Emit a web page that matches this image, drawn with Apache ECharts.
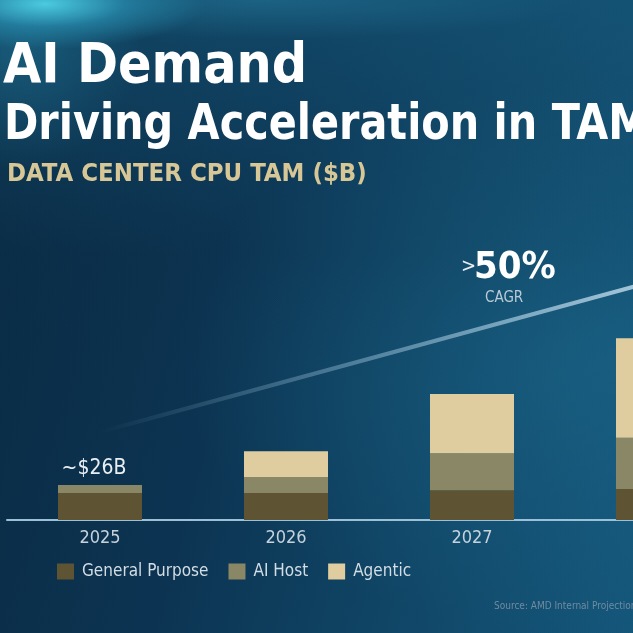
<!DOCTYPE html>
<html>
<head>
<meta charset="utf-8">
<script src="https://cdn.jsdelivr.net/npm/echarts@6/dist/echarts.min.js"></script>
<style>
html,body{margin:0;padding:0;width:633px;height:633px;overflow:hidden;}
#wrap{position:relative;width:633px;height:633px;overflow:hidden;
background:
 radial-gradient(ellipse 160px 45px at 45px 4px, rgba(80,215,235,0.9) 0%, rgba(45,160,195,0.5) 50%, rgba(20,90,130,0) 100%),
 radial-gradient(ellipse 120px 120px at 20px 50px, rgba(40,140,175,0.35) 0%, rgba(20,90,130,0) 100%),
 radial-gradient(ellipse 320px 40px at 260px 0px, rgba(40,130,165,0.45) 0%, rgba(20,90,130,0) 100%),
 radial-gradient(ellipse 420px 280px at 600px 360px, rgba(28,105,140,0.55) 0%, rgba(20,90,125,0) 100%),
 linear-gradient(180deg, rgba(22,88,122,0.55) 0%, rgba(12,50,78,0.15) 40%, rgba(10,40,65,0) 60%),
 linear-gradient(105deg, #0a2a42 0%, #0c3452 40%, #11496a 75%, #14567a 100%);}
#chart{position:absolute;left:0;top:0;width:751px;height:633px;}
</style>
</head>
<body>
<div id="wrap"><div id="chart"></div></div>
<script>
const categories = ['2025', '2026', '2027', '2028'];
const generalPurpose = [20, 20, 22, 23];
const aiHost = [6, 12, 27.5, 38];
const agentic = [0, 19, 44, 74];
const seriesNames = ['General Purpose', 'AI Host', 'Agentic'];
const firstYearLabel = '~$26B';
const titleLine1 = 'AI Demand';
const titleLine2 = 'Driving Acceleration in TAM';
const subtitle = 'DATA CENTER CPU TAM ($B)';
const cagrValue = '50%';
const cagrLabel = 'CAGR';
const sourceText = 'Source: AMD Internal Projections';

const FONT = '"Liberation Sans Narrow","DejaVu Sans Condensed","Roboto Condensed","Open Sans",sans-serif';
const colors = ['#5e5433', '#8a8766', '#dfcd9f'];

const chart = echarts.init(document.getElementById('chart'), null, {renderer: 'canvas'});
const option = {
  backgroundColor: 'transparent',
  animation: false,
  legend: {
    left: 57, top: 563, padding: 0,
    itemWidth: 17, itemHeight: 16, itemGap: 20,
    icon: 'rect',
    textStyle: {color: '#d3dde4', fontSize: 17, fontFamily: FONT, padding: [0, 0, 0, 3]},
    data: seriesNames
  },
  grid: {left: 7, right: 0, bottom: 113, top: 318, containLabel: false},
  xAxis: {
    type: 'category',
    data: categories,
    axisLine: {lineStyle: {color: '#9cc0d6', width: 2}},
    axisTick: {show: false},
    axisLabel: {color: '#c5d2dc', fontSize: 18, fontFamily: FONT, margin: 9}
  },
  yAxis: {type: 'value', min: 0, max: 150, show: false, splitLine: {show: false}},
  series: [
    {name: seriesNames[0], type: 'bar', stack: 'tam', barWidth: 84, data: generalPurpose, itemStyle: {color: colors[0]}},
    {name: seriesNames[1], type: 'bar', stack: 'tam', barWidth: 84, data: aiHost, itemStyle: {color: colors[1]}},
    {name: seriesNames[2], type: 'bar', stack: 'tam', barWidth: 84,
      data: agentic.map((v, i) => i === 0 ? {value: v, label: {show: true, position: 'top', distance: 6, offset: [-6, 0], formatter: firstYearLabel, color: '#e8eef2', fontSize: 21, fontFamily: FONT}} : v),
      itemStyle: {color: colors[2]}}
  ],
  graphic: [
    {type: 'text', left: 3, top: 40, style: {text: titleLine1, fill: '#ffffff', font: 'bold 55px ' + FONT}},
    {type: 'text', x: 4, y: 101, scaleX: 0.92, style: {text: titleLine2, fill: '#ffffff', font: 'bold 50px ' + FONT}},
    {type: 'text', x: 7, y: 162, scaleX: 1.02, style: {text: subtitle, fill: '#d8c796', font: 'bold 25px ' + FONT}},
    {type: 'line', z: 1, silent: true,
      shape: {x1: 100, y1: 432, x2: 640, y2: 285},
      style: {lineWidth: 4, stroke: new echarts.graphic.LinearGradient(0, 0, 1, 0, [
        {offset: 0, color: 'rgba(150,190,215,0)'},
        {offset: 0.35, color: 'rgba(150,190,215,0.35)'},
        {offset: 1, color: 'rgba(180,210,228,0.9)'}
      ])}},
    {type: 'text', left: 461, top: 257, style: {text: '>', fill: '#e8eef2', font: '20px ' + FONT}},
    {type: 'text', left: 474, top: 249, style: {text: cagrValue, fill: '#ffffff', font: 'bold 38px ' + FONT}},
    {type: 'text', left: 485, top: 291, style: {text: cagrLabel, fill: '#b8cad6', font: '15px ' + FONT}},
    {type: 'text', left: 494, top: 601, style: {text: sourceText, fill: '#6f8ba0', font: '10px ' + FONT}}
  ]
};
chart.setOption(option);
</script>
</body>
</html>
